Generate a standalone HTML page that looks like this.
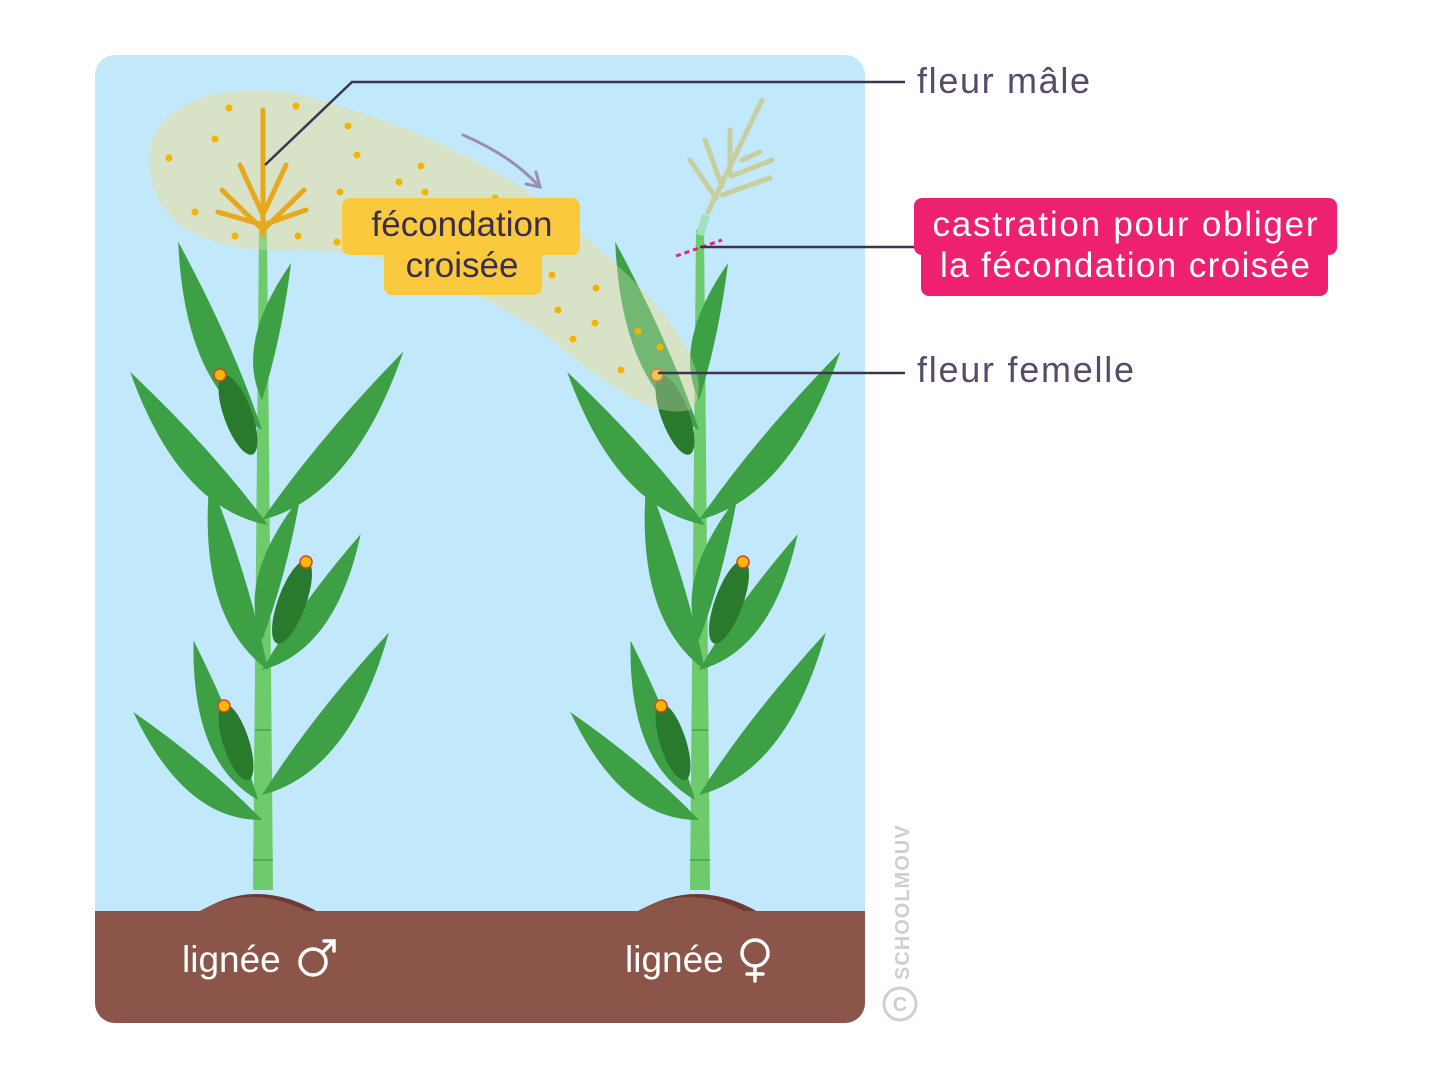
<!DOCTYPE html>
<html><head><meta charset="utf-8"><style>
html,body{margin:0;padding:0;background:#fff;}
svg{display:block;font-family:"Liberation Sans","DejaVu Sans",sans-serif;}
</style></head><body>
<svg width="1434" height="1081" viewBox="0 0 1434 1081">
<defs>
<clipPath id="card"><rect x="95" y="55" width="770" height="968" rx="20"/></clipPath>
<path id="leaf" d="M0,0 Q70,-24 200,0 Q90,4 0,0Z"/>
<g id="plant">
  <polygon points="259,230 267,230 273,890 253,890" fill="#6DCB6B"/>
  <g fill="#3DA045">
    <use href="#leaf" transform="translate(262,430) rotate(-114) scale(1.03,2.2)"/>
    <use href="#leaf" transform="translate(262,400) rotate(-78) scale(0.7,1.6)"/>
    <use href="#leaf" transform="translate(268,525) rotate(-132) scale(1.03,2.3)"/>
    <use href="#leaf" transform="translate(262,520) rotate(-50) scale(1.1,2.3) scale(1,-1)"/>
    <use href="#leaf" transform="translate(268,670) rotate(-107) scale(1.0,2.2)"/>
    <use href="#leaf" transform="translate(262,640) rotate(-75) scale(0.74,1.7)"/>
    <use href="#leaf" transform="translate(262,670) rotate(-54) scale(0.84,2) scale(1,-1)"/>
    <use href="#leaf" transform="translate(262,820) rotate(-140) scale(0.84,2.1)"/>
    <use href="#leaf" transform="translate(258,800) rotate(-112) scale(0.86,2)"/>
    <use href="#leaf" transform="translate(262,795) rotate(-52) scale(1.03,2.3) scale(1,-1)"/>
  </g>
  <g fill="#2A7A2E">
    <ellipse cx="238" cy="415" rx="14" ry="42" transform="rotate(-20 238 415)"/>
    <ellipse cx="292" cy="602" rx="14" ry="44" transform="rotate(20 292 602)"/>
    <ellipse cx="236" cy="742" rx="13" ry="40" transform="rotate(-18 236 742)"/>
  </g>
  <g fill="#F5B800" stroke="#D2452B" stroke-width="1.5">
    <circle cx="220" cy="375" r="6"/><circle cx="306" cy="562" r="6"/><circle cx="224" cy="706" r="6"/>
  </g>
  <g stroke="#4FB04F" stroke-width="2"><line x1="253" y1="860" x2="273" y2="860"/><line x1="255" y1="730" x2="271" y2="730"/></g>
</g>
</defs>
<rect x="95" y="55" width="770" height="968" rx="20" fill="#C2E8FB"/>
<g clip-path="url(#card)">
  <path d="M150,170 C140,100 230,80 300,95 C400,120 520,170 600,250 C670,310 720,380 690,410 C650,420 600,380 540,330 C470,290 400,250 300,250 C200,255 155,220 150,170Z" fill="#D7E2C6"/>
  <use href="#plant"/>
  <use href="#plant" transform="translate(437,0)"/>
  <path d="M150,170 C140,100 230,80 300,95 C400,120 520,170 600,250 C670,310 720,380 690,410 C650,420 600,380 540,330 C470,290 400,250 300,250 C200,255 155,220 150,170Z" fill="#D7E2C6" opacity="0.35"/>
  <g stroke="#E8A81E" stroke-width="5" stroke-linecap="round" fill="none">
    <line x1="263" y1="235" x2="263" y2="110"/>
    <path d="M263,230 L222,190 M263,230 L304,190 M263,215 L240,165 M263,215 L286,165 M263,225 L218,212 M263,225 L306,210"/>
  </g>
  <g stroke="#C8CF9E" stroke-width="5" stroke-linecap="round" fill="none">
    <line x1="708" y1="212" x2="762" y2="100"/>
    <path d="M716,198 L690,160 M722,186 L705,140 M730,175 L730,130 M722,195 L770,178 M732,176 L772,160 M742,160 L760,152"/>
  </g>
  <line x1="706" y1="215" x2="700" y2="235" stroke="#9FE0C0" stroke-width="8"/>
  <g fill="#F2B400">
    <circle cx="229" cy="108" r="3.5"/><circle cx="296" cy="106" r="3.5"/><circle cx="348" cy="126" r="3.5"/><circle cx="169" cy="158" r="3.5"/><circle cx="215" cy="139" r="3.5"/><circle cx="357" cy="155" r="3.5"/><circle cx="421" cy="166" r="3.5"/><circle cx="399" cy="182" r="3.5"/><circle cx="195" cy="212" r="3.5"/><circle cx="235" cy="236" r="3.5"/><circle cx="298" cy="236" r="3.5"/><circle cx="340" cy="192" r="3.5"/><circle cx="425" cy="192" r="3.5"/><circle cx="495" cy="198" r="3.5"/><circle cx="337" cy="242" r="3.5"/><circle cx="552" cy="275" r="3.5"/><circle cx="596" cy="288" r="3.5"/><circle cx="558" cy="310" r="3.5"/><circle cx="595" cy="323" r="3.5"/><circle cx="638" cy="331" r="3.5"/><circle cx="573" cy="339" r="3.5"/><circle cx="621" cy="370" r="3.5"/><circle cx="660" cy="347" r="3.5"/>
  </g>
  <path d="M463,135 Q510,155 538,185" stroke="#9B8DB8" stroke-width="3" fill="none" stroke-linecap="round"/>
  <path d="M526,184 L540,187 L536,172" stroke="#9B8DB8" stroke-width="3" fill="none" stroke-linecap="round"/>
  <path d="M198,913 Q255,875 320,913Z M636,913 Q695,875 760,913Z" fill="#6E3A33"/>
  <rect x="95" y="911" width="770" height="120" fill="#8B5649"/>
  <path d="M198,912 Q250,882 308,912Z M636,912 Q688,882 746,912Z" fill="#8B5649"/>
  <text x="182" y="972" font-size="37" fill="#fff">lignée</text>
  <text x="625" y="972" font-size="37" fill="#fff">lignée</text>
  <g stroke="#fff" stroke-width="3.5" fill="none" stroke-linecap="round">
    <circle cx="313" cy="962" r="13"/>
    <path d="M322,953 L334,941 M324,941 L334,941 L334,951"/>
    <circle cx="755" cy="953" r="13"/>
    <path d="M755,966 L755,981 M747,974 L763,974"/>
  </g>
</g>
<line x1="676" y1="256" x2="722" y2="240" stroke="#EE2170" stroke-width="3" stroke-dasharray="5,4"/>
<g stroke="#3d3550" stroke-width="2.5" fill="none">
  <path d="M905,82 L352,82 L265,165"/>
  <line x1="905" y1="373" x2="658" y2="373"/>
  <line x1="914" y1="247" x2="700" y2="247"/>
</g>
<rect x="342" y="198" width="238" height="57" rx="8" fill="#FBC93D"/>
<rect x="384" y="238" width="158" height="57" rx="8" fill="#FBC93D"/>
<text x="462" y="236" font-size="35" fill="#3a2e4a" text-anchor="middle">fécondation</text>
<text x="462" y="277" font-size="35" fill="#3a2e4a" text-anchor="middle">croisée</text>
<rect x="914" y="198" width="423" height="57" rx="8" fill="#EE2170"/>
<rect x="921" y="238" width="407" height="58" rx="8" fill="#EE2170"/>
<text x="1125" y="236" font-size="35" fill="#fff" text-anchor="middle" textLength="385">castration pour obliger</text>
<text x="1125" y="277" font-size="35" fill="#fff" text-anchor="middle" textLength="370">la fécondation croisée</text>
<text x="917" y="93" font-size="36" fill="#5a4a6a" textLength="173">fleur mâle</text>
<text x="917" y="382" font-size="36" fill="#5a4a6a" textLength="217">fleur femelle</text>
<text transform="translate(909,980) rotate(-90)" font-size="20" font-weight="bold" fill="#cfcfcf" letter-spacing="1">SCHOOLMOUV</text>
<circle cx="900" cy="1004" r="16" fill="none" stroke="#cfcfcf" stroke-width="3"/>
<text x="900" y="1011" font-size="20" font-weight="bold" fill="#cfcfcf" text-anchor="middle">C</text>
</svg>
</body></html>
